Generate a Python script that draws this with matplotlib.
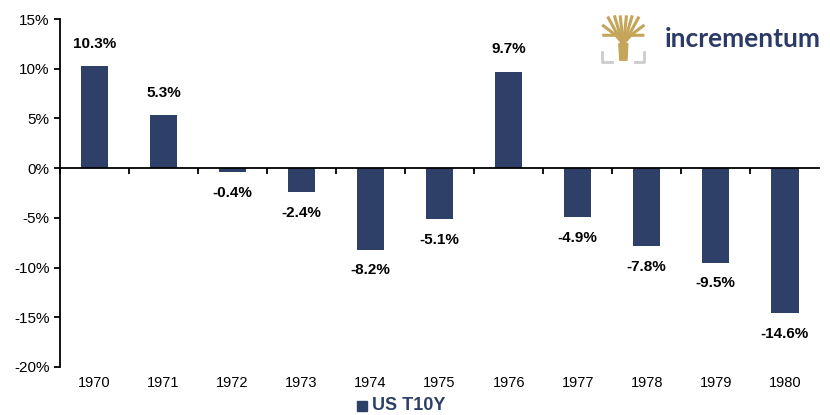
import matplotlib.pyplot as plt
from matplotlib.patches import Rectangle
from matplotlib.transforms import blended_transform_factory

# dati
years = ['1970', '1971', '1972', '1973', '1974', '1975', '1976', '1977', '1978', '1979', '1980']
returns = [10.3, 5.3, -0.4, -2.4, -8.2, -5.1, 9.7, -4.9, -7.8, -9.5, -14.6]
y_ticks = [-20, -15, -10, -5, 0, 5, 10, 15]
series_name = 'US T10Y'

bar_color = '#2E4068'
gold = '#C4A55A'

plt.rcParams['font.family'] = ['Liberation Sans', 'DejaVu Sans']

fig = plt.figure(figsize=(8.3, 4.15), dpi=100)
ax = fig.add_axes([0.0723, 0.1157, 0.9147, 0.8385])

x = list(range(len(years)))
ax.bar(x, returns, width=0.4, color=bar_color, zorder=2)

ax.set_xlim(-0.5, len(years) - 0.5)
ax.set_ylim(-20, 15)
ax.set_yticks(y_ticks)
ax.set_yticklabels([f'{v}%' for v in y_ticks], fontsize=11)

# asse x sullo zero, tacche tra le categorie
ax.spines['bottom'].set_position(('data', 0))
ax.spines['top'].set_visible(False)
ax.spines['right'].set_visible(False)
ax.spines['left'].set_linewidth(1.3)
ax.spines['bottom'].set_linewidth(1.3)
ax.set_xticks([i + 0.5 for i in x[:-1]] + [-0.5])
ax.set_xticklabels([])
ax.tick_params(axis='x', direction='out', length=4, width=1.3)
ax.tick_params(axis='y', direction='out', length=4, width=1.3)

# etichette anni in basso
trans = blended_transform_factory(ax.transData, ax.transAxes)
for i, yr in enumerate(years):
    ax.text(i, -0.045, yr, transform=trans, ha='center', va='center', fontsize=10.5)

# etichette valori
for i, v in enumerate(returns):
    off = 16 if v >= 0 else -15
    ax.annotate(f'{v}%', (i, v), xytext=(0, off), textcoords='offset points',
                ha='center', va='center', fontsize=11, fontweight='bold')

# legenda
fig.patches.append(Rectangle((357 / 830, 1 - 411 / 415), 10 / 830, 10 / 415,
                             transform=fig.transFigure, color=bar_color))
fig.text(372 / 830, 1 - 405 / 415, series_name, color=bar_color, fontsize=13,
         fontweight='bold', ha='left', va='center')

# logo
lax = fig.add_axes([0.724, 0.845, 0.054, 0.12])
lax.set_xlim(0, 10)
lax.set_ylim(0, 12)
lax.axis('off')
lax.fill([4.2, 5.8, 6.0, 4.0], [1, 1, 5, 5], color=gold)
for dx, top in [(-4.7, 7), (-4.7, 9.5), (-3.5, 11.5), (-2, 11.8), (-0.7, 11.8),
                (0.7, 11.8), (2, 11.8), (3.5, 11.5), (4.7, 9.5), (4.7, 7)]:
    lax.plot([5, 5 + dx * 0.35, 5 + dx], [5, 7, top], color=gold, lw=2.2,
             solid_capstyle='butt')
lax.plot([0.3, 0.3, 2.5], [3, 0.5, 0.5], color='#CCCCCC', lw=2)
lax.plot([9.7, 9.7, 7.5], [3, 0.5, 0.5], color='#CCCCCC', lw=2)
fig.text(665 / 830, 0.907, 'incrementum', color='#2B3A67', fontsize=19,
         fontweight='bold', ha='left', va='center', family=['Lato', 'DejaVu Sans'])

fig.savefig('out.png', dpi=100)
